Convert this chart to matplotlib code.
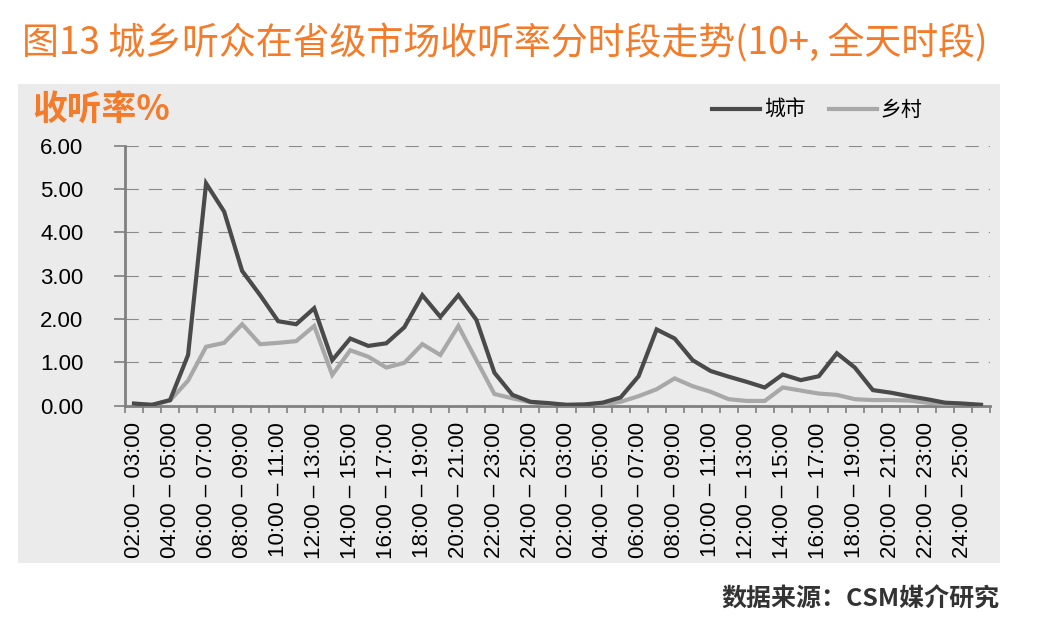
import numpy as np
import matplotlib
matplotlib.use('Agg')
import matplotlib.pyplot as plt
from matplotlib.patches import Rectangle

plt.rcParams['font.family'] = ['Noto Sans CJK SC', 'DejaVu Sans']

# 时段标签（每天24个时段，两组）
hours = ["%02d:00 – %02d:00" % (h, h + 1) for h in range(2, 26)]
categories = hours + hours

# 城市 / 乡村 收听率
city = [0.05, 0.02, 0.13, 1.17, 5.13, 4.48, 3.11, 2.55, 1.95, 1.88, 2.25, 1.05,
        1.55, 1.38, 1.44, 1.81, 2.55, 2.05, 2.55, 1.98, 0.76, 0.25, 0.09, 0.06,
        0.02, 0.03, 0.07, 0.19, 0.68, 1.76, 1.55, 1.05, 0.80, 0.67, 0.55, 0.42,
        0.72, 0.59, 0.68, 1.21, 0.88, 0.36, 0.30, 0.22, 0.15, 0.07, 0.05, 0.02]
rural = [0.02, 0.02, 0.12, 0.58, 1.36, 1.45, 1.88, 1.42, 1.45, 1.49, 1.84, 0.71,
         1.28, 1.13, 0.88, 0.99, 1.42, 1.17, 1.84, 1.05, 0.27, 0.17, 0.08, 0.04,
         0.02, 0.02, 0.03, 0.09, 0.22, 0.38, 0.63, 0.45, 0.32, 0.15, 0.11, 0.11,
         0.42, 0.35, 0.28, 0.25, 0.15, 0.13, 0.13, 0.12, 0.07, 0.04, 0.03, 0.02]

orange = '#F47B2A'
W, H = 1048, 640
fig = plt.figure(figsize=(W / 100, H / 100), dpi=100)

# 灰色底板
fig.patches.append(Rectangle((18 / W, 1 - 563 / H), 982 / W, 479 / H,
                             transform=fig.transFigure, facecolor='#EBEBEB',
                             edgecolor='none', zorder=-10))

ax = fig.add_axes([125 / W, 1 - 405.7 / H, 865 / W, 260 / H])
ax.set_facecolor('none')
ax.set_zorder(1)

x = np.arange(len(categories))
ax.plot(x, rural, color='#A8A8A8', lw=3, label='乡村', solid_joinstyle='miter', zorder=3)
ax.plot(x, city, color='#4A4A4A', lw=3, label='城市', solid_joinstyle='miter', zorder=4)

ax.set_xlim(-0.5, len(categories) - 0.5)
ax.set_ylim(0, 6)
ax.set_yticks(np.arange(0, 6.5, 1))
ax.set_yticklabels(['%.2f' % v for v in np.arange(0, 6.5, 1)],
                   family='Liberation Sans', fontsize=16)
ax.yaxis.grid(True, color='#8A8A8A', lw=0.8, linestyle=(0, (12, 9)))
ax.set_axisbelow(True)

ax.set_xticks(np.arange(-0.5, len(categories)), labels=[])
ax.set_xticks(x[::2], minor=True)
ax.set_xticklabels(categories[::2], minor=True, rotation=90,
                   family='Liberation Sans', fontsize=16, va='top')
ax.tick_params(axis='x', which='major', length=5, width=1.2, color='#808080', direction='out')
ax.tick_params(axis='x', which='minor', length=0, pad=12)
ax.tick_params(axis='y', length=8, width=1.2, color='#808080', pad=22)

for s in ['top', 'right']:
    ax.spines[s].set_visible(False)
for s in ['left', 'bottom']:
    ax.spines[s].set_color('#808080')
    ax.spines[s].set_linewidth(2)

handles, labels = ax.get_legend_handles_labels()
leg = fig.legend(handles[::-1], labels[::-1], loc='center left',
                 bbox_to_anchor=(712 / W, 1 - 110 / H), ncol=2, frameon=False,
                 fontsize=15, handlelength=2.3, handletextpad=0.2,
                 columnspacing=1.1, borderpad=0, borderaxespad=0)

fig.text(22 / W, 1 - 43 / H, '图13 城乡听众在省级市场收听率分时段走势(10+, 全天时段)',
         color=orange, fontsize=26.6, va='center', ha='left')
fig.text(32 / W, 1 - 110 / H, '收听率%', color=orange, fontsize=25,
         fontweight='bold', va='center', ha='left')
fig.text(1000 / W, 1 - 600 / H, '数据来源：CSM媒介研究', color='#333333',
         fontsize=18, fontweight='bold', va='center', ha='right')

fig.savefig('out.png', dpi=100)
